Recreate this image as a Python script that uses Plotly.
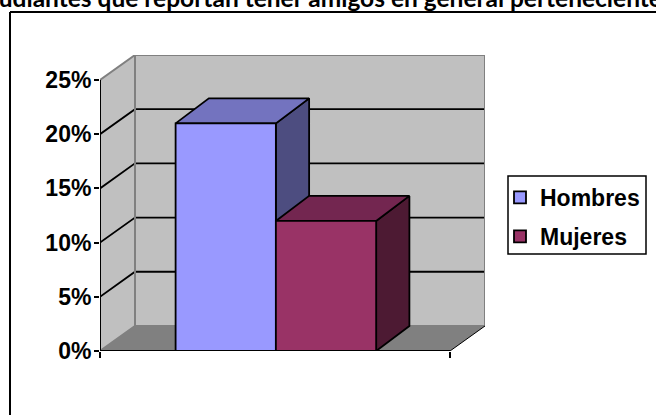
import plotly.graph_objects as go

# Data
series_names = ["Hombres", "Mujeres"]
series_values = [21, 12]
tick_values = [0, 5, 10, 15, 20, 25]
tick_labels = ["0%", "5%", "10%", "15%", "20%", "25%"]
bar_colors = ["#9999FF", "#993366"]
top_colors = ["#7373BF", "#732650"]
side_colors = ["#4D4D80", "#4D1A33"]
title_text = "Estudiantes que reportan tener amigos en general pertenecientes"

# Oblique projection in axis units (1 category wide, 0-25% tall)
DX, DY = 0.1, 2.31
BAR_DX, BAR_DY = 0.095, 2.31
BAR_W = 0.2865
BAR_L = 0.216
X_MAX = 1.0 + DX
Y_MAX = 25 + DY
W, H = 656, 415
left, right, bottom, top = 100, 485, 351, 55

fig = go.Figure()


def poly(xs, ys, fill, edge=None, width=0):
    fig.add_trace(go.Scatter(
        x=xs + xs[:1], y=ys + ys[:1], mode="lines", fill="toself", fillcolor=fill,
        line=dict(color=edge or fill, width=width), showlegend=False, hoverinfo="skip"))


def seg(xs, ys, color="#000000", width=1.8):
    fig.add_trace(go.Scatter(
        x=xs, y=ys, mode="lines", line=dict(color=color, width=width),
        showlegend=False, hoverinfo="skip", cliponaxis=False))


# Walls and floor
poly([0, DX, DX, 0], [0, DY, 25 + DY, 25], "#C0C0C0")
poly([DX, 1 + DX, 1 + DX, DX], [DY, DY, 25 + DY, 25 + DY], "#C0C0C0")
poly([0, 1, 1 + DX, DX], [0, 0, DY, DY], "#808080")

# Gridlines
for t in tick_values[1:-1]:
    seg([0, DX, 1 + DX], [t, t + DY, t + DY])
seg([0, DX, 1 + DX, 1 + DX], [25, 25 + DY, 25 + DY, DY], "#808080", 2)
seg([DX, DX], [DY, 25 + DY], "#808080", 2)
seg([0, DX, 1 + DX], [0, DY, DY], "#808080", 2)
seg([1, 1 + DX], [0, DY], "#000000", 1)
seg([0, 0], [0, 25], "#000000", 2)
seg([0, 1], [0, 0], "#000000", 2)

# Bar tops and sides
for i, v in enumerate(series_values):
    x0 = BAR_L + i * BAR_W
    x1 = x0 + BAR_W
    poly([x1, x1 + BAR_DX, x1 + BAR_DX, x1], [0, BAR_DY, v + BAR_DY, v], side_colors[i], "#000000", 1.8)
    poly([x0, x1, x1 + BAR_DX, x0 + BAR_DX], [v, v, v + BAR_DY, v + BAR_DY], top_colors[i], "#000000", 1.8)

# Front faces (overlay axes so they cover the depth faces)
for i, v in enumerate(series_values):
    fig.add_trace(go.Bar(
        x=[BAR_L + i * BAR_W], y=[v], width=[BAR_W], offset=0, name=series_names[i],
        legendgroup=series_names[i],
        marker=dict(color=bar_colors[i], line=dict(color="#000000", width=1.8)),
        xaxis="x2", yaxis="y2", hoverinfo="skip"))

# Axes
axis_font = dict(family="Liberation Sans", size=23, color="#000000", weight=700)
fig.update_layout(
    width=W, height=H, margin=dict(l=left, r=W - right, t=top, b=H - bottom),
    paper_bgcolor="#FFFFFF", plot_bgcolor="rgba(0,0,0,0)", barmode="overlay",
    title=dict(text=title_text, x=0.486, xanchor="center", y=0.983, yanchor="bottom",
               font=dict(family="Lato", size=24.5, color="#000000", weight=700)),
    xaxis=dict(range=[0, X_MAX], tickvals=[0, 1], ticktext=["", ""], ticks="outside", ticklen=6,
               tickwidth=1.5, tickcolor="#000000", showgrid=False, zeroline=False, showline=False),
    yaxis=dict(range=[0, Y_MAX], tickvals=tick_values, ticktext=tick_labels, ticks="outside",
               ticklen=5, tickwidth=1.5, tickcolor="#000000", showgrid=False, zeroline=False,
               showline=False, tickfont=axis_font, ticklabelstandoff=-2),
    xaxis2=dict(range=[0, X_MAX], overlaying="x", visible=False),
    yaxis2=dict(range=[0, Y_MAX], overlaying="y", visible=False),
    legend=dict(x=500 / W, y=1 - 176 / H, xref="container", yref="container", xanchor="left", yanchor="top",
                bgcolor="rgba(0,0,0,0)", borderwidth=0, itemclick=False,
                traceorder="grouped", tracegroupgap=6,
                font=dict(family="Liberation Sans", size=23, color="#000000", weight=700)),
)


def px_x(p):
    return (p - left) / (right - left)


def px_y(p):
    return (bottom - p) / (bottom - top)


# Outer chart frame and legend box
fig.add_shape(type="line", xref="x domain", yref="y domain", x0=px_x(10), x1=px_x(10),
              y0=px_y(12), y1=px_y(415), line=dict(color="#000000", width=2))
fig.add_shape(type="line", xref="x domain", yref="y domain", x0=px_x(10), x1=px_x(656),
              y0=px_y(12), y1=px_y(12), line=dict(color="#000000", width=2))
fig.add_shape(type="rect", xref="x domain", yref="y domain", x0=px_x(508), x1=px_x(646),
              y0=px_y(176), y1=px_y(254), line=dict(color="#000000", width=1.5), fillcolor="#FFFFFF")

fig.write_html("out.html", config=dict(displayModeBar=False),
               post_script="document.body.style.margin='0';document.documentElement.style.overflow='hidden';")
